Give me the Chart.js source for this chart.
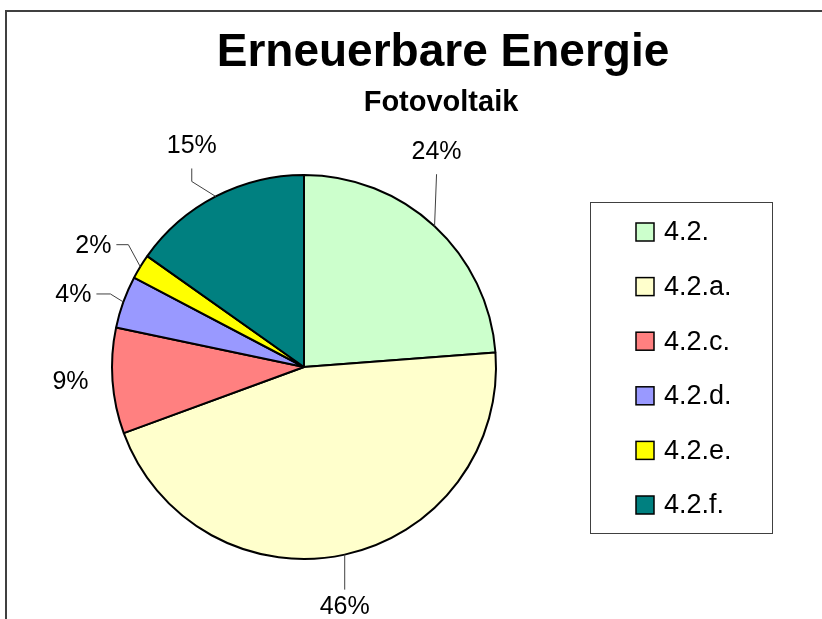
<!DOCTYPE html>
<html>
<head>
<meta charset="utf-8">
<script src="https://cdn.jsdelivr.net/npm/chart.js@4/dist/chart.umd.min.js"></script>
<style>
  html, body { margin: 0; padding: 0; background: #fff; }
  #wrap { position: relative; width: 822px; height: 619px; }
</style>
</head>
<body>
<div id="wrap"><canvas id="pieChart" width="822" height="619"></canvas></div>
<script>
// Daten
const categories = ['4.2.', '4.2.a.', '4.2.c.', '4.2.d.', '4.2.e.', '4.2.f.'];
const shares = [23.8, 45.6, 8.9, 4.4, 2.1, 15.2];
const sliceColors = ['#CCFFCC', '#FFFFCC', '#FF8080', '#9999FF', '#FFFF00', '#008080'];
const chartTitle = 'Erneuerbare Energie';
const chartSubtitle = 'Fotovoltaik';

// Lage der Prozent-Beschriftung relativ zum Rand des Segments
const labelSpots = [
  { dx: 2, dy: -75, leader: 'v', gap: 13, elbow: 0 },
  { dx: 0, dy: 51, leader: 'v', gap: 6, elbow: 0 },
  { dx: -42, dy: 0, leader: null },
  { dx: -50, dy: -8, leader: 'h', gap: 5, elbow: 14 },
  { dx: -47, dy: -22, leader: 'h', gap: 5, elbow: 12 },
  { dx: -24, dy: -51, leader: 'v', gap: 13, elbow: 13 }
];

const FONT = '"Liberation Sans", Arial, sans-serif';

const excelLook = {
  id: 'excelLook',
  beforeDraw(chart) {
    const ctx = chart.ctx;
    ctx.save();
    ctx.fillStyle = '#fff';
    ctx.fillRect(0, 0, chart.width, chart.height);
    // Rahmen des Diagrammbereichs
    ctx.strokeStyle = '#404040';
    ctx.lineWidth = 2;
    ctx.beginPath();
    ctx.moveTo(6, chart.height);
    ctx.lineTo(6, 11);
    ctx.lineTo(chart.width, 11);
    ctx.stroke();
    ctx.restore();
  },
  afterDraw(chart) {
    const ctx = chart.ctx;
    ctx.save();

    // Titel
    ctx.fillStyle = '#000';
    ctx.textAlign = 'center';
    ctx.textBaseline = 'alphabetic';
    ctx.font = 'bold 46px ' + FONT;
    ctx.fillText(chartTitle, 443, 66);
    ctx.font = 'bold 29px ' + FONT;
    ctx.fillText(chartSubtitle, 441, 111);

    // Prozentwerte mit Führungslinien
    const total = shares.reduce((s, v) => s + v, 0);
    const meta = chart.getDatasetMeta(0);
    ctx.font = '25px ' + FONT;
    ctx.textBaseline = 'middle';
    meta.data.forEach((arc, i) => {
      const p = arc.getProps(['x', 'y', 'startAngle', 'endAngle', 'outerRadius'], true);
      const mid = (p.startAngle + p.endAngle) / 2;
      const ax = p.x + Math.cos(mid) * p.outerRadius;
      const ay = p.y + Math.sin(mid) * p.outerRadius;
      const spot = labelSpots[i];
      const lx = ax + spot.dx;
      const ly = ay + spot.dy;
      const text = Math.round(shares[i] / total * 100) + '%';
      ctx.fillStyle = '#000';
      ctx.fillText(text, lx, ly + 1);

      if (spot.leader) {
        const w = ctx.measureText(text).width;
        let sx, sy, ex, ey;
        if (spot.leader === 'h') {
          const dir = Math.sign(ax - lx);
          sx = lx + dir * (w / 2 + spot.gap);
          sy = ly;
          ex = sx + dir * spot.elbow;
          ey = sy;
        } else {
          const dir = Math.sign(ay - ly);
          sx = lx;
          sy = ly + dir * (10 + spot.gap);
          ex = sx;
          ey = sy + dir * spot.elbow;
        }
        ctx.strokeStyle = '#404040';
        ctx.lineWidth = 1;
        ctx.beginPath();
        ctx.moveTo(sx, sy);
        ctx.lineTo(ex, ey);
        ctx.lineTo(ax, ay);
        ctx.stroke();
      }
    });

    // Legende
    ctx.strokeStyle = '#404040';
    ctx.lineWidth = 1;
    ctx.strokeRect(590.5, 202.5, 182, 331);
    ctx.font = '27px ' + FONT;
    ctx.textAlign = 'left';
    categories.forEach((name, i) => {
      const cy = 232 + i * 54.6;
      ctx.fillStyle = sliceColors[i];
      ctx.fillRect(636, cy - 9, 18, 18);
      ctx.strokeStyle = '#000';
      ctx.lineWidth = 1.5;
      ctx.strokeRect(636, cy - 9, 18, 18);
      ctx.fillStyle = '#000';
      ctx.fillText(name, 664, cy + 1);
    });

    ctx.restore();
  }
};

new Chart(document.getElementById('pieChart'), {
  type: 'pie',
  data: {
    labels: categories,
    datasets: [{
      data: shares,
      backgroundColor: sliceColors,
      borderColor: '#000',
      borderWidth: 2
    }]
  },
  options: {
    responsive: false,
    animation: false,
    layout: { padding: { left: 111, right: 325, top: 174, bottom: 59 } },
    plugins: {
      legend: { display: false },
      title: { display: false },
      tooltip: { enabled: false }
    }
  },
  plugins: [excelLook]
});
</script>
</body>
</html>
